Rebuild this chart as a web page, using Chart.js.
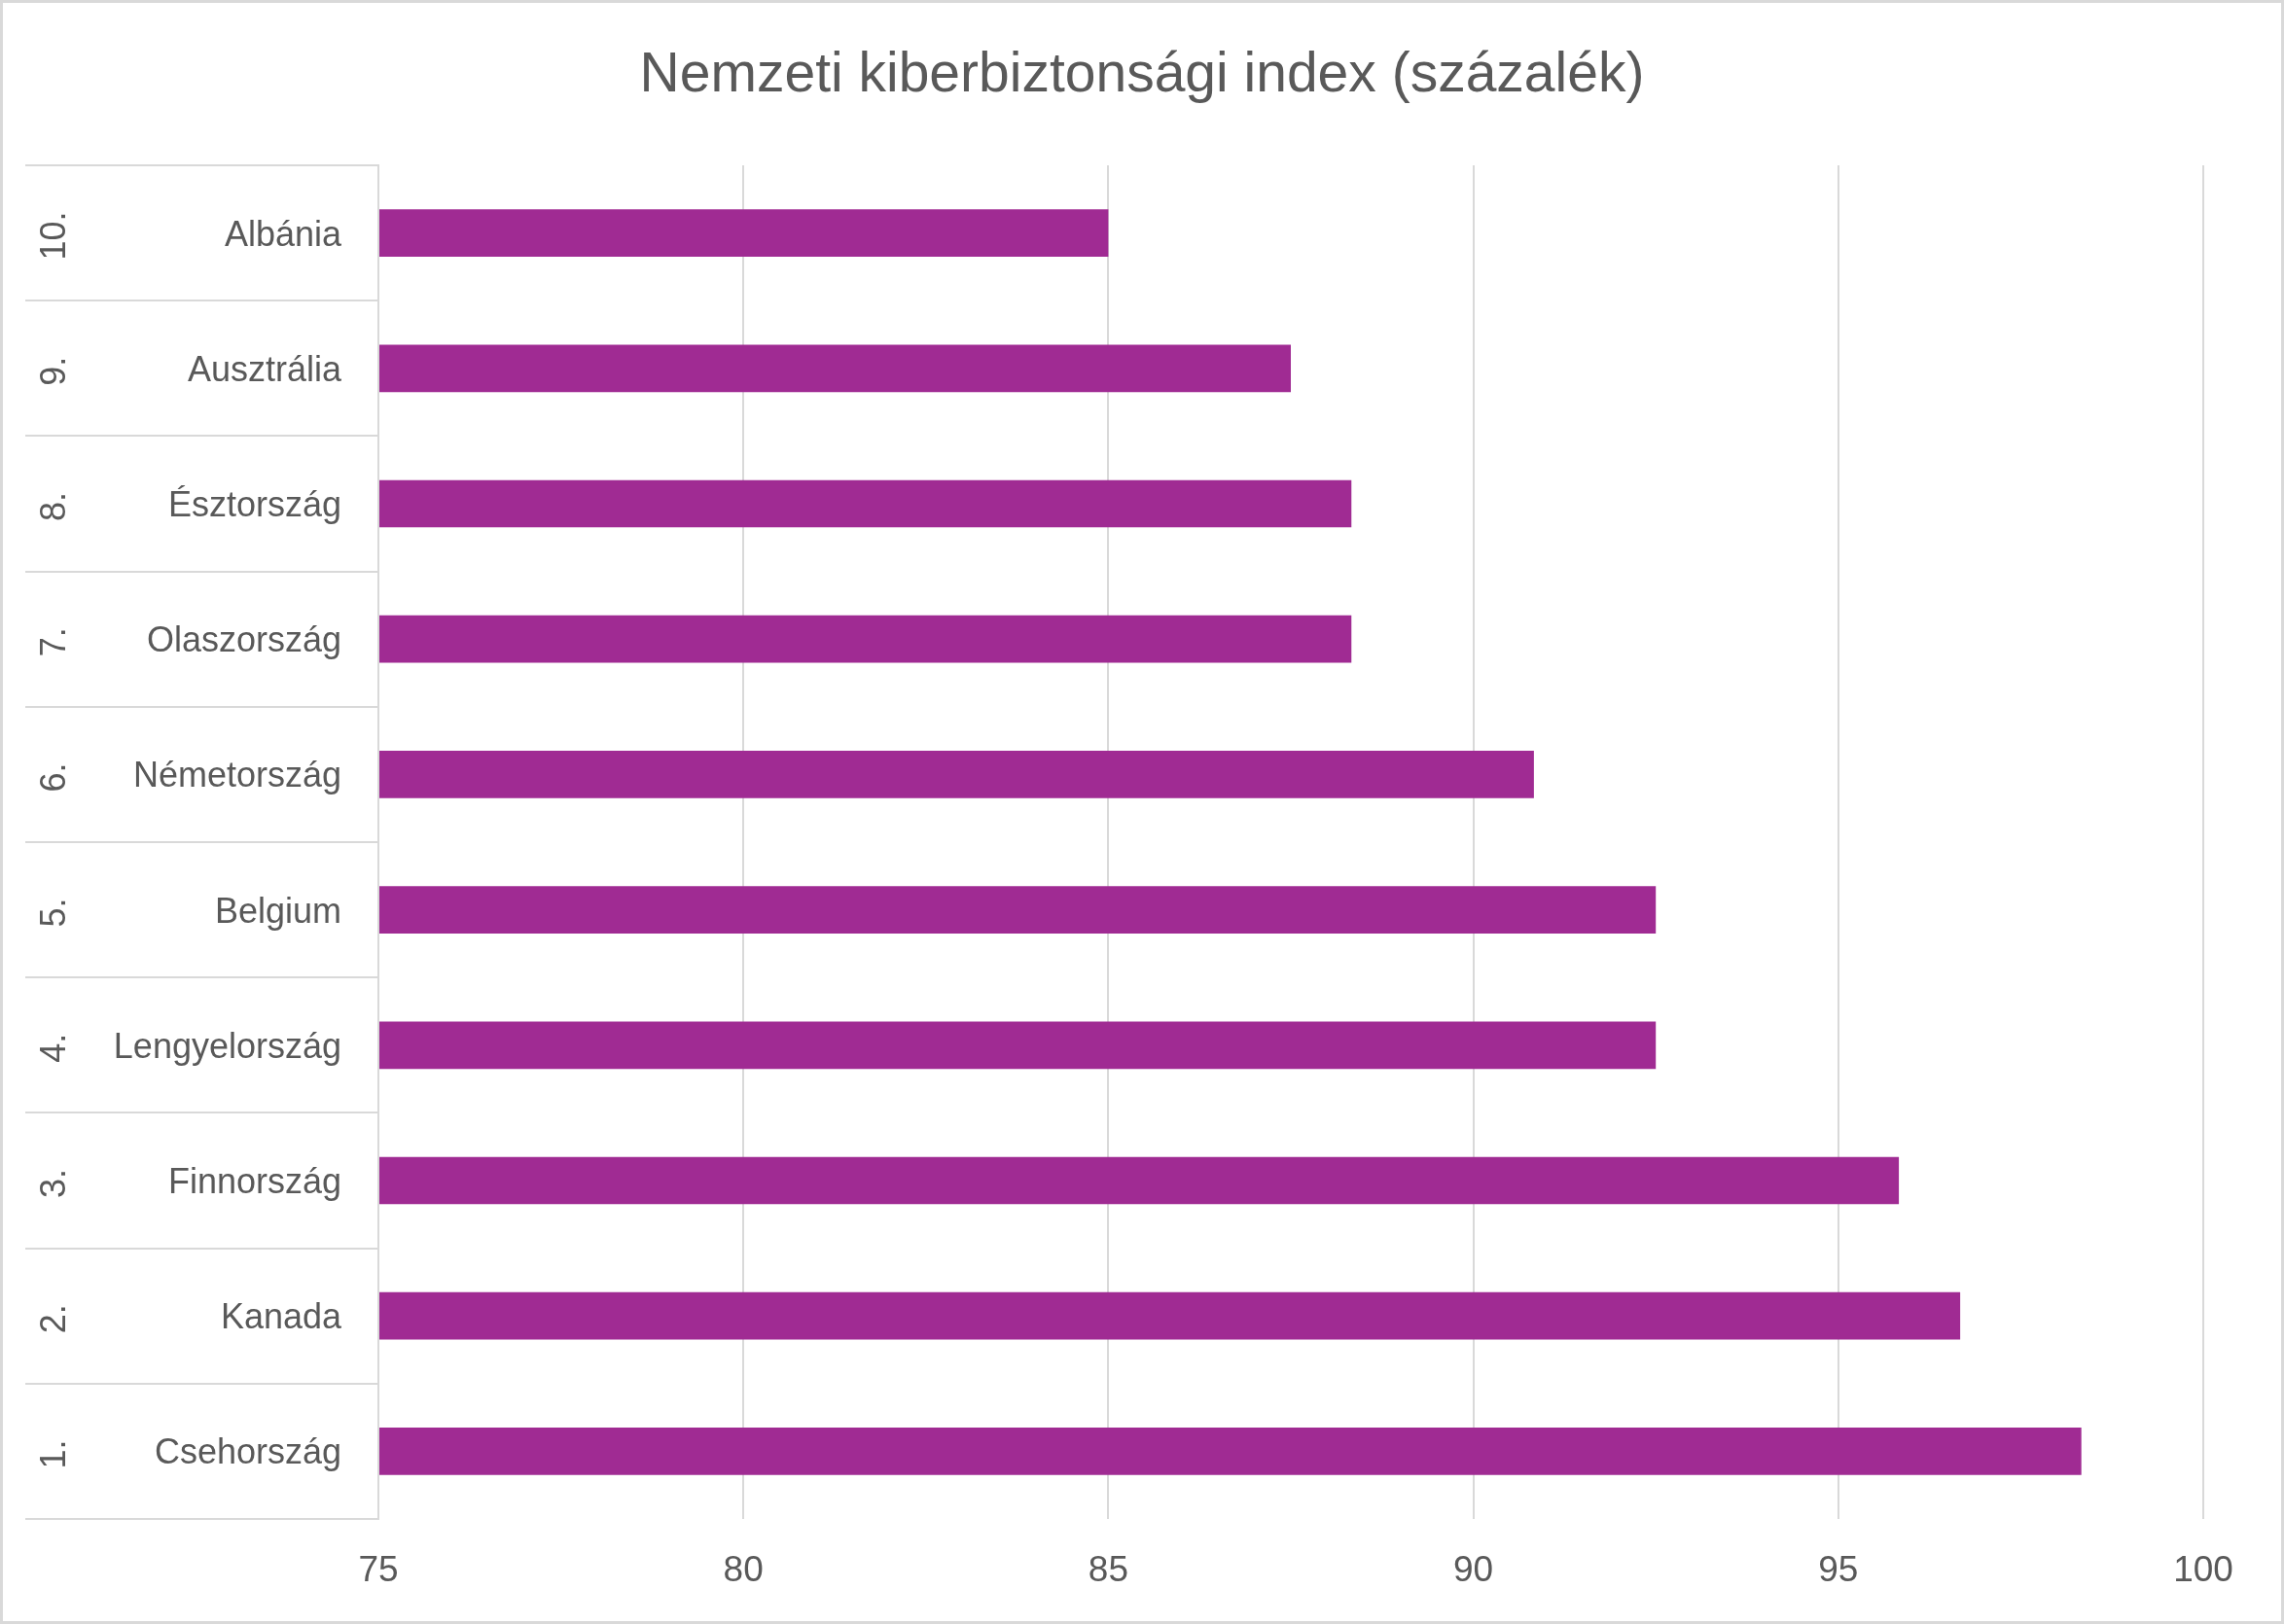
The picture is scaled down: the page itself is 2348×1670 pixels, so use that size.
<!DOCTYPE html>
<html>
<head>
<meta charset="utf-8">
<script src="https://cdn.jsdelivr.net/npm/chart.js@4/dist/chart.umd.min.js"></script>
<style>
  html, body { margin: 0; padding: 0; background: #fff; }
  .frame { width: 2348px; height: 1670px; box-sizing: border-box; border: 3px solid #d9d9d9; }
  canvas { display: block; }
</style>
</head>
<body>
<div class="frame"><canvas id="rankChart" width="2342" height="1664"></canvas></div>
<script>
// Chart data (rank order, 1. first)
const ranks = ['1.', '2.', '3.', '4.', '5.', '6.', '7.', '8.', '9.', '10.'];
const countries = ['Csehország', 'Kanada', 'Finnország', 'Lengyelország', 'Belgium',
                   'Németország', 'Olaszország', 'Észtország', 'Ausztrália', 'Albánia'];
const scores = [98.33, 96.67, 95.83, 92.5, 92.5, 90.83, 88.33, 88.33, 87.5, 85];
const xTicks = [75, 80, 85, 90, 95, 100];

const textColor = '#595959';
const lineColor = '#d9d9d9';
const fontFamily = '"Liberation Sans", Arial, sans-serif';

// Rotated rank numbers in the outer label column
const rankLabels = {
    id: 'rankLabels',
    afterDraw(chart) {
        const y = chart.scales.y;
        const ctx = chart.ctx;
        ctx.save();
        ctx.fillStyle = textColor;
        ctx.font = '36px ' + fontFamily;
        ctx.textAlign = 'center';
        ctx.textBaseline = 'middle';
        ranks.forEach((r, i) => {
            ctx.save();
            ctx.translate(54, y.getPixelForValue(i) + 3);
            ctx.rotate(-Math.PI / 2);
            ctx.fillText(r, 0, 0);
            ctx.restore();
        });
        ctx.restore();
    }
};

const ctx = document.getElementById('rankChart').getContext('2d');

new Chart(ctx, {
    type: 'bar',
    data: {
        labels: countries,
        datasets: [{
            data: scores,
            base: 75,
            backgroundColor: '#a02b93',
            borderWidth: 0,
            barPercentage: 0.35,
            categoryPercentage: 1
        }]
    },
    options: {
        indexAxis: 'y',
        responsive: false,
        animation: false,
        devicePixelRatio: 1,
        layout: {
            padding: 0
        },
        plugins: {
            legend: { display: false },
            tooltip: { enabled: false },
            title: {
                display: true,
                text: 'Nemzeti kiberbiztonsági index (százalék)',
                color: textColor,
                font: { family: fontFamily, size: 57, weight: 'normal', lineHeight: 1 },
                padding: { top: 47, bottom: 63 }
            }
        },
        scales: {
            x: {
                min: 75,
                max: 100,
                afterBuildTicks: scale => {
                    scale.ticks = xTicks.map(v => ({ value: v }));
                },
                grid: { color: lineColor, lineWidth: 2, drawTicks: false },
                border: { display: false },
                ticks: {
                    padding: 32,
                    color: textColor,
                    font: { family: fontFamily, size: 37 }
                },
                afterFit: scale => { scale.height = 105; }
            },
            y: {
                reverse: true,
                grid: {
                    display: true,
                    offset: true,
                    drawOnChartArea: false,
                    drawTicks: true,
                    tickLength: 363,
                    color: lineColor,
                    lineWidth: 2
                },
                border: { display: true, color: lineColor, width: 2 },
                ticks: {
                    padding: 38 - 363,
                    labelOffset: 3,
                    color: textColor,
                    font: { family: fontFamily, size: 36 }
                },
                afterFit: scale => { scale.width = 386; }
            },
            // empty spacer on the right so the title stays centred on the page
            spacer: {
                type: 'linear',
                position: 'right',
                grid: { display: false },
                border: { display: false },
                ticks: { display: false },
                afterFit: scale => { scale.width = 80; }
            }
        }
    },
    plugins: [rankLabels]
});
</script>
</body>
</html>
